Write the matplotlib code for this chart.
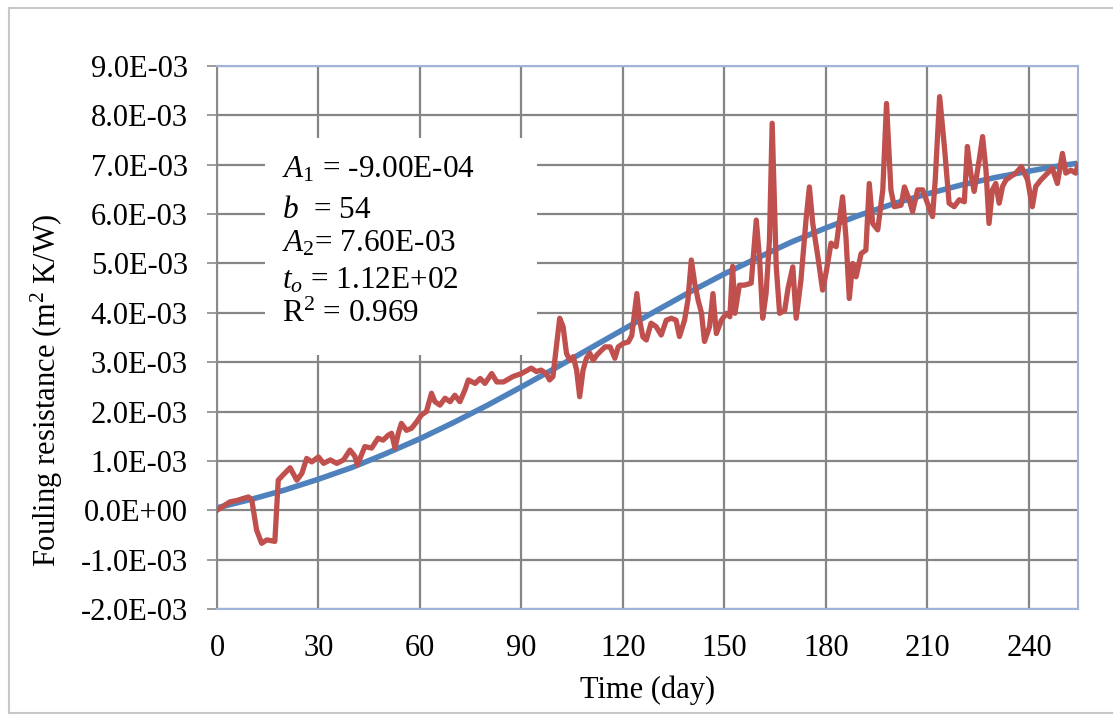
import matplotlib
matplotlib.use('Agg')
import matplotlib.pyplot as plt
from matplotlib.patches import Rectangle
from matplotlib.lines import Line2D

plt.rcParams['font.family'] = ['Liberation Serif', 'DejaVu Serif']
plt.rcParams['mathtext.fontset'] = 'custom'
plt.rcParams['mathtext.rm'] = 'Liberation Serif'
plt.rcParams['mathtext.it'] = 'Liberation Serif:italic'

# measured fouling resistance (x 1e-3 m2K/W) vs day
day_meas = [0, 3.8, 6, 7.8, 9.3, 10.3, 11.7, 13.2, 14.7, 17.1, 18.1, 19.6, 21.6, 23.6, 25.1,
            26.5, 28.0, 30.0, 31.5, 33.5, 35.4, 37.4, 39.3, 40.7, 41.5, 43.7, 45.7, 47.6, 49.1,
            50.6, 51.6, 52.6, 53.6, 54.5, 56.0, 57.5, 59.0, 60.4, 61.9, 63.4, 64.4, 65.9, 67.4,
            68.9, 70.3, 71.8, 73.3, 74.3, 76.3, 77.8, 79.2, 81.2, 82.7, 84.7, 87.5, 90.0, 92.9,
            94.4, 95.8, 97.3, 98.3, 99.3, 100.3, 101.3, 102.3, 103.3, 104.3, 105.3, 106.3, 107.2,
            108.2, 109.2, 110.2, 111.2, 112.2, 113.2, 114.7, 116.2, 117.6, 118.6, 120.1, 121.6,
            122.6, 123.4, 124.1, 124.9, 125.9, 126.9, 128.3, 129.8, 131.3, 132.8, 134.3, 135.7,
            136.7, 138.2, 139.2, 140.2, 141.2, 142.2, 143.2, 144.1, 145.6, 146.6, 147.6, 149.1,
            150.6, 151.6, 152.4, 153.1, 154.4, 155.9, 157.9, 159.4, 160.4, 161.3, 162.3, 163.3,
            164.1, 165.3, 166.3, 167.8, 168.8, 170.2, 171.2, 172.6, 174.1, 175.1, 176.1, 177.6,
            179.0, 180.0, 181.5, 183.0, 184.9, 185.9, 186.9, 187.9, 188.9, 190.4, 191.8, 192.8,
            193.8, 195.3, 196.8, 197.9, 199.2, 200.2, 202.2, 203.2, 204.6, 205.6, 207.1, 208.6,
            210.0, 211.5, 212.3, 213.6, 215.0, 216.4, 217.9, 219.4, 220.9, 221.8, 222.8, 223.8,
            225.3, 226.3, 227.3, 228.2, 229.2, 230.2, 231.2, 232.2, 233.2, 234.6, 236.1, 237.8,
            239.6, 241.0, 242.0, 243.5, 245.5, 246.9, 248.4, 249.9, 250.9, 252.4, 253.8, 254.5]
rf_meas = [0.00, 0.17, 0.20, 0.24, 0.27, 0.20, -0.40, -0.67, -0.60, -0.63, 0.61, 0.72, 0.86, 0.61, 0.75,
           1.05, 0.98, 1.08, 0.95, 1.02, 0.95, 1.02, 1.22, 1.10, 0.92, 1.29, 1.26, 1.46, 1.42,
           1.52, 1.56, 1.26, 1.56, 1.76, 1.62, 1.66, 1.79, 1.93, 2.00, 2.37, 2.20, 2.13, 2.27,
           2.20, 2.33, 2.20, 2.44, 2.64, 2.57, 2.67, 2.57, 2.77, 2.60, 2.60, 2.71, 2.77, 2.88,
           2.81, 2.84, 2.77, 2.64, 2.71, 3.31, 3.89, 3.72, 3.18, 3.04, 3.11, 2.84, 2.30,
           2.84, 3.08, 3.18, 3.04, 3.14, 3.21, 3.31, 3.31, 3.08, 3.31, 3.38, 3.41,
           3.54, 3.99, 4.39, 3.86, 3.51, 3.45, 3.79, 3.72, 3.55, 3.85, 3.89, 3.85,
           3.52, 3.85, 4.26, 5.07, 4.60, 4.26, 4.00, 3.42, 3.72, 4.39, 3.58, 3.85,
           3.99, 3.92, 4.94, 3.99, 4.56, 4.56, 4.60, 5.88, 5.07, 3.89, 4.39, 5.47,
           7.84, 4.94, 3.99, 4.05, 4.50, 4.93, 3.89, 4.66, 5.88, 6.55, 5.81, 5.14,
           4.46, 4.80, 5.41, 5.34, 6.35, 5.54, 4.29, 5.00, 4.73, 5.20, 5.27, 6.62,
           5.81, 5.68, 6.49, 8.24, 6.49, 6.15, 6.18, 6.55, 6.29, 6.05, 6.49, 6.49,
           6.22, 5.95, 6.69, 8.38, 7.37, 6.22, 6.15, 6.29, 6.25, 7.37, 6.83, 6.46,
           7.10, 7.57, 6.89, 5.81, 6.49, 6.62, 6.22, 6.56, 6.69, 6.76, 6.83, 6.96,
           6.69, 6.15, 6.56, 6.69, 6.83, 6.93, 6.62, 7.23, 6.83, 6.89, 6.83, 7.00]

# fitted curve (x 1e-3)
day_fit = [0, 10, 20, 30, 40, 50, 60, 70, 80, 90, 100, 110, 120, 130, 140, 150, 160, 170,
           180, 190, 200, 210, 220, 230, 240, 250, 254.5]
rf_fit = [0.05, 0.22, 0.41, 0.63, 0.87, 1.15, 1.45, 1.78, 2.13, 2.50, 2.88, 3.27, 3.66, 4.05,
          4.43, 4.79, 5.12, 5.44, 5.72, 5.98, 6.21, 6.41, 6.59, 6.74, 6.87, 6.99, 7.03]

y_ticks = [-2, -1, 0, 1, 2, 3, 4, 5, 6, 7, 8, 9]
y_labels = ['-2.0E-03', '-1.0E-03', '0.0E+00', '1.0E-03', '2.0E-03', '3.0E-03',
            '4.0E-03', '5.0E-03', '6.0E-03', '7.0E-03', '8.0E-03', '9.0E-03']
x_ticks = [0, 30, 60, 90, 120, 150, 180, 210, 240]

fit_text = [r'$A_\mathit{1}$ = -9.00E-04',
            r'$b$  = 54',
            r'$A_\mathit{2}$= 7.60E-03',
            r'$t_o$ = 1.12E+02',
            r'R$^2$ = 0.969']

W, H = 1113, 715
fig = plt.figure(figsize=(W / 100, H / 100), dpi=100)
ax = fig.add_axes([217 / W, 1 - 609 / H, (1078 - 217) / W, (609 - 66) / H])

ax.set_axisbelow(True)
ax.grid(True, color='#858585', linewidth=1.6)

# white box behind the fit parameters
ax.add_patch(Rectangle((265 / W, 1 - 355 / H), (537 - 265) / W, (355 - 138) / H,
                       transform=fig.transFigure, facecolor='white', edgecolor='none', zorder=1))

ax.plot(day_meas, rf_meas, color='#C0504D', linewidth=3.8, zorder=3)
ax.plot(day_fit, rf_fit, color='#4F81BD', linewidth=4.0, zorder=2)

ax.set_xlim(0, 254.5)
ax.set_ylim(-2, 9)
ax.set_xticks(x_ticks)
ax.set_xticklabels([str(t) for t in x_ticks])
ax.set_yticks(y_ticks)
ax.set_yticklabels(y_labels)
ax.tick_params(axis='y', length=7, width=1.2, color='#8a8a8a', pad=14, labelsize=22)
ax.tick_params(axis='x', length=0, pad=18, labelsize=22)

for s in ['top', 'right', 'bottom']:
    ax.spines[s].set_color('#9fb4d8')
    ax.spines[s].set_linewidth(1.5)
ax.spines['left'].set_color('#8a8a8a')
ax.spines['left'].set_linewidth(1.5)

ax.set_xlabel('Time (day)', fontsize=22, labelpad=9)
fig.text(47 / W, 1 - 390 / H, 'Fouling resistance (m$^2$ K/W)', rotation=90,
         ha='center', va='center', fontsize=22)

baselines = [178, 218, 252, 288, 322]
for txt, yb in zip(fit_text, baselines):
    fig.text(282 / W, 1 - yb / H, txt, fontsize=22.5, va='baseline', ha='left')

# outer frame of the figure
frame = '#c8c8c8'
fig.add_artist(Line2D([9 / W, 9 / W], [1 - 8 / H, 1 - 713 / H], color=frame, lw=1.5))
fig.add_artist(Line2D([9 / W, 1], [1 - 8 / H, 1 - 8 / H], color=frame, lw=1.5))
fig.add_artist(Line2D([9 / W, 1], [1 - 713 / H, 1 - 713 / H], color=frame, lw=1.5))

fig.savefig('out.png', dpi=100)
